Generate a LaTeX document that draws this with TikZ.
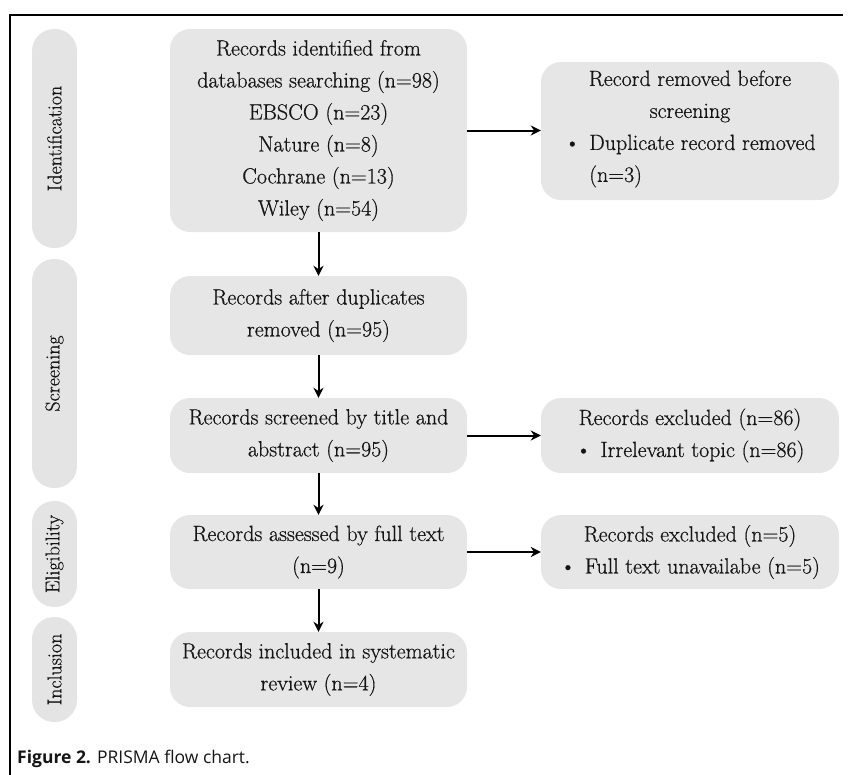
\documentclass[tikz,border=0pt]{standalone}
\usepackage{fontspec}
\setsansfont{Open Sans}
\newfontfamily\boxfont{Latin Modern Roman}[FakeBold=0.6]
\usetikzlibrary{arrows.meta}
\definecolor{boxgray}{HTML}{E6E6E6}
\definecolor{pillgray}{HTML}{E4E4E4}
\definecolor{txt}{HTML}{151515}
\begin{document}
\begin{tikzpicture}[x=1pt,y=-1pt,
  box/.style={rectangle, rounded corners=20pt, fill=boxgray, inner sep=0pt, text=txt, align=center, font=\boxfont\fontsize{22}{32}\selectfont},
  pill/.style={rectangle, rounded corners=22pt, fill=pillgray, inner sep=0pt, rotate=90, text=txt, minimum height=45pt, font=\boxfont\fontsize{20}{24}\selectfont},
  arr/.style={-{Stealth[length=10pt,width=10pt]}, line width=2pt, draw=black}]
\useasboundingbox (0,0) rectangle (848,774);
\draw[line width=2.5pt, line join=miter] (10,775) -- (10,15) -- (843,15);

% phase pills
\node[pill, minimum width=219pt] (p1) at (54.5,138.5) {Identification};
\node[pill, minimum width=229pt] (p2) at (54.5,373.5) {Screening};
\node[pill, minimum width=106pt] (p3) at (54.5,554) {Eligibility};
\node[pill, minimum width=105pt] (p4) at (54.5,669.5) {Inclusion};

% main column
\node[box, minimum width=297pt, minimum height=203pt] (b1) at (318.5,130.5)
  {Records identified from\\databases searching (n=98)\\EBSCO (n=23)\\Nature (n=8)\\Cochrane (n=13)\\Wiley (n=54)};
\node[box, minimum width=297pt, minimum height=79pt] (b2) at (318.5,315.5)
  {Records after duplicates\\removed (n=95)};
\node[box, minimum width=297pt, minimum height=75pt] (b3) at (318.5,435.5)
  {Records screened by title and\\abstract (n=95)};
\node[box, minimum width=297pt, minimum height=74pt] (b4) at (318.5,552)
  {Records assessed by full text\\(n=9)};
\node[box, minimum width=297pt, minimum height=75pt] (b5) at (318.5,669.5)
  {Records included in systematic\\review (n=4)};

% side column
\node[box, minimum width=298pt, minimum height=138pt] (r1) at (690,131)
  {Record removed before\\screening\\
   \begin{tabular}[t]{@{}l@{\hspace{9pt}}l@{}}\textbullet & Duplicate record removed\\ & (n=3)\end{tabular}};
\node[box, minimum width=298pt, minimum height=75pt] (r3) at (690,435.5)
  {Records excluded (n=86)\\\textbullet\hspace{9pt}Irrelevant topic (n=86)};
\node[box, minimum width=298pt, minimum height=74pt] (r4) at (690,552)
  {Records excluded (n=5)\\\textbullet\hspace{9pt}Full text unavailabe (n=5)};

% connectors
\draw[arr] (b1.south) -- (b2.north);
\draw[arr] (b2.south) -- (b3.north);
\draw[arr] (b3.south) -- (b4.north);
\draw[arr] (b4.south) -- (b5.north);
\draw[arr] (b1.east) -- (b1.east -| r1.west);
\draw[arr] (b3.east) -- (r3.west);
\draw[arr] (b4.east) -- (r4.west);

% caption
\node[anchor=west, inner sep=0pt, text=txt, font=\sffamily\fontsize{17.5}{20}\selectfont] (cap) at (17,759)
  {\textbf{Figure 2.} PRISMA flow chart.};
\end{tikzpicture}
\end{document}
